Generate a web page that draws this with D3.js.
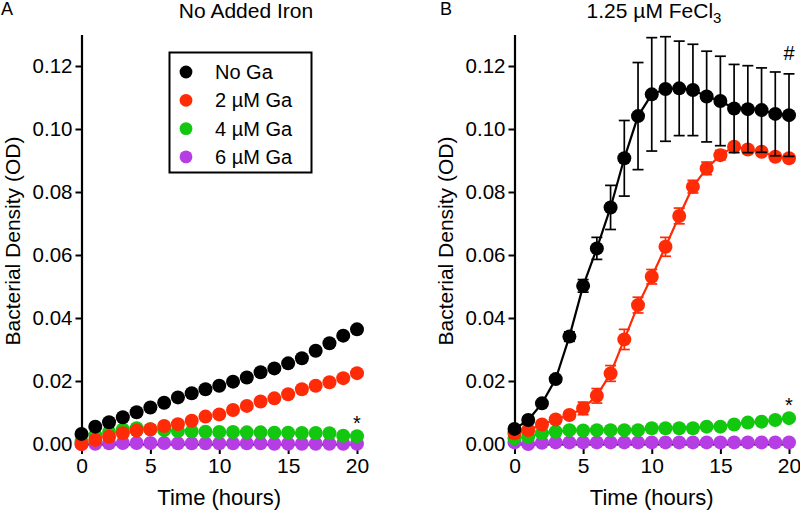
<!DOCTYPE html>
<html><head><meta charset="utf-8">
<script src="https://cdn.jsdelivr.net/npm/d3@7"></script>
<style>body{margin:0;background:#fff}svg{display:block;font-family:"Liberation Sans",Arial,sans-serif}</style>
</head><body><svg id="c" width="800" height="512"></svg>
<script>
const hours = d3.range(0, 21);
const seriesNames = ["No Ga", "2 \u00b5M Ga", "4 \u00b5M Ga", "6 \u00b5M Ga"];
const seriesColors = ["#000000", "#ff2b06", "#12c80f", "#b63de4"];
const yTicks = [0, 0.02, 0.04, 0.06, 0.08, 0.10, 0.12];
const xTicks = [0, 5, 10, 15, 20];

// Panel A: No Added Iron
const A_noGa = [0.0032,0.0055,0.0069,0.0085,0.0101,0.0116,0.0131,0.0148,0.0161,0.0174,0.0185,0.0198,0.0211,0.0228,0.0240,0.0256,0.0272,0.0296,0.0320,0.0344,0.0364];
const A_ga2  = [0.0000,0.0013,0.0023,0.0034,0.0043,0.0047,0.0057,0.0063,0.0074,0.0087,0.0094,0.0108,0.0121,0.0135,0.0145,0.0158,0.0174,0.0185,0.0196,0.0209,0.0225];
const A_ga4  = [0.0008,0.0028,0.0038,0.0046,0.0050,0.0047,0.0044,0.0041,0.0040,0.0039,0.0038,0.0038,0.0037,0.0037,0.0036,0.0036,0.0035,0.0035,0.0034,0.0026,0.0025];
const A_ga6  = [0.0000,0.0001,0.0002,0.0003,0.0003,0.0003,0.0003,0.0002,0.0002,0.0002,0.0002,0.0002,0.0002,0.0002,0.0001,0.0001,0.0001,0.0001,0.0001,0.0001,0.0001];

// Panel B: 1.25 uM FeCl3
const B_noGa = [0.0048,0.0076,0.0129,0.0206,0.0341,0.0502,0.0621,0.0751,0.0907,0.1041,0.1110,0.1127,0.1129,0.1124,0.1103,0.1089,0.1065,0.1063,0.1060,0.1048,0.1044];
const B_noGa_err = [0.0005,0.0005,0.0008,0.0010,0.0015,0.0020,0.0035,0.0070,0.0120,0.0170,0.0180,0.0166,0.0150,0.0145,0.0144,0.0142,0.0140,0.0138,0.0134,0.0133,0.0131];
const B_ga2  = [0.0034,0.0044,0.0062,0.0078,0.0092,0.0113,0.0153,0.0224,0.0332,0.0441,0.0531,0.0626,0.0724,0.0817,0.0875,0.0917,0.0944,0.0935,0.0928,0.0912,0.0907];
const B_ga2_err = [0.0015,0.0010,0.0010,0.0010,0.0012,0.0020,0.0023,0.0025,0.0032,0.0025,0.0023,0.0030,0.0025,0.0020,0.0020,0.0015,0.0010,0.0010,0.0010,0.0010,0.0010];
const B_ga4  = [0.0018,0.0023,0.0034,0.0039,0.0044,0.0043,0.0044,0.0044,0.0044,0.0044,0.0050,0.0050,0.0050,0.0050,0.0055,0.0055,0.0062,0.0068,0.0071,0.0076,0.0082];
const B_ga6  = [0.0005,0.0000,0.0004,0.0005,0.0005,0.0005,0.0005,0.0005,0.0005,0.0005,0.0005,0.0005,0.0005,0.0005,0.0005,0.0005,0.0005,0.0005,0.0005,0.0005,0.0005];

const annotA = [{text:"*", x:20, y:0.0043}];
const annotB = [{text:"*", x:20, y:0.0103}, {text:"#", x:20, y:0.1219}];

const svg = d3.select("#c");
const y = d3.scaleLinear().domain([0, 0.13]).range([444, 34.5]);
const R = 7;
const FF = "Liberation Sans, Arial, sans-serif";

function panel(opts) {
  const x = d3.scaleLinear().domain([0, 20]).range(opts.xr);
  const g = svg.append("g");
  const ya = g.append("g").attr("transform", `translate(${opts.xr[0]},0)`)
    .call(d3.axisLeft(y).tickValues(yTicks).tickFormat(d3.format(".2f")).tickSize(6).tickSizeOuter(0).tickPadding(3));
  ya.select(".domain").attr("stroke-width", 2.2);
  ya.selectAll(".tick line").attr("stroke-width", 2);
  ya.selectAll("text").attr("font-size", 20.5).attr("font-family", FF).attr("fill", "#000");
  const xa = g.append("g").attr("transform", `translate(0,${y(0)})`)
    .call(d3.axisBottom(x).tickValues(xTicks).tickSize(10).tickSizeOuter(0).tickPadding(4));
  xa.select(".domain").attr("stroke-width", 2);
  xa.selectAll(".tick line").attr("stroke-width", 2);
  xa.selectAll("text").attr("font-size", 21).attr("font-family", FF).attr("fill", "#000");

  const order = [3, 2, 1, 0];
  order.forEach(i => {
    const vals = opts.data[i];
    const err = opts.err ? opts.err[i] : null;
    const col = seriesColors[i];
    if (err) {
      const eg = g.append("g").attr("stroke", col).attr("stroke-width", 1.7);
      hours.forEach((h, k) => {
        const y1 = y(vals[k] + err[k]), y2 = y(vals[k] - err[k]);
        eg.append("line").attr("x1", x(h)).attr("x2", x(h)).attr("y1", y1).attr("y2", y2);
        eg.append("line").attr("x1", x(h) - 5.5).attr("x2", x(h) + 5.5).attr("y1", y1).attr("y2", y1);
        eg.append("line").attr("x1", x(h) - 5.5).attr("x2", x(h) + 5.5).attr("y1", y2).attr("y2", y2);
      });
    }
    if (opts.lines) {
      g.append("path").datum(vals)
        .attr("d", d3.line().x((d, k) => x(hours[k])).y(d => y(d)))
        .attr("fill", "none").attr("stroke", col).attr("stroke-width", 2.2);
    }
    g.append("g").selectAll("circle").data(vals).join("circle")
      .attr("cx", (d, k) => x(hours[k])).attr("cy", d => y(d)).attr("r", R).attr("fill", col);
  });

  opts.annot.forEach(a => {
    g.append("text").attr("x", x(a.x)).attr("y", y(a.y)).attr("text-anchor", "middle")
      .attr("font-size", 20).text(a.text);
  });

  const cx = (opts.xr[0] + opts.xr[1]) / 2;
  g.append("text").attr("x", cx).attr("y", 505).attr("text-anchor", "middle").attr("font-size", 22).text("Time (hours)");
  g.append("text").attr("transform", `translate(${opts.ytx},241) rotate(-90)`).attr("text-anchor", "middle")
    .attr("font-size", 21).text("Bacterial Density (OD)");
  g.append("text").attr("x", opts.letterX).attr("y", 15).attr("font-size", 18).text(opts.letter);
  const t = g.append("text").attr("x", opts.titleX).attr("y", 18).attr("text-anchor", "middle").attr("font-size", 21);
  t.text(opts.title);
  if (opts.sub) t.append("tspan").attr("font-size", 15).attr("dy", 5).text(opts.sub);
  return x;
}

panel({xr: [81.5, 357], data: [A_noGa, A_ga2, A_ga4, A_ga6], lines: false, annot: annotA,
  ytx: 20, letter: "A", letterX: 1, title: "No Added Iron", titleX: 246});
panel({xr: [514.5, 789], data: [B_noGa, B_ga2, B_ga4, B_ga6], err: [B_noGa_err, B_ga2_err, null, null], lines: true, annot: annotB,
  ytx: 453, letter: "B", letterX: 440, title: "1.25 \u00b5M FeCl", sub: "3", titleX: 654});

const lg = svg.append("g");
lg.append("rect").attr("x", 169.5).attr("y", 52.5).attr("width", 142).attr("height", 120)
  .attr("fill", "#fff").attr("stroke", "#000").attr("stroke-width", 2);
seriesNames.forEach((n, i) => {
  const yy = 72 + i * 28.3;
  lg.append("circle").attr("cx", 186).attr("cy", yy).attr("r", 6.4).attr("fill", seriesColors[i]);
  lg.append("text").attr("x", 215).attr("y", yy + 7).attr("font-size", 20).text(n);
});
</script></body></html>
